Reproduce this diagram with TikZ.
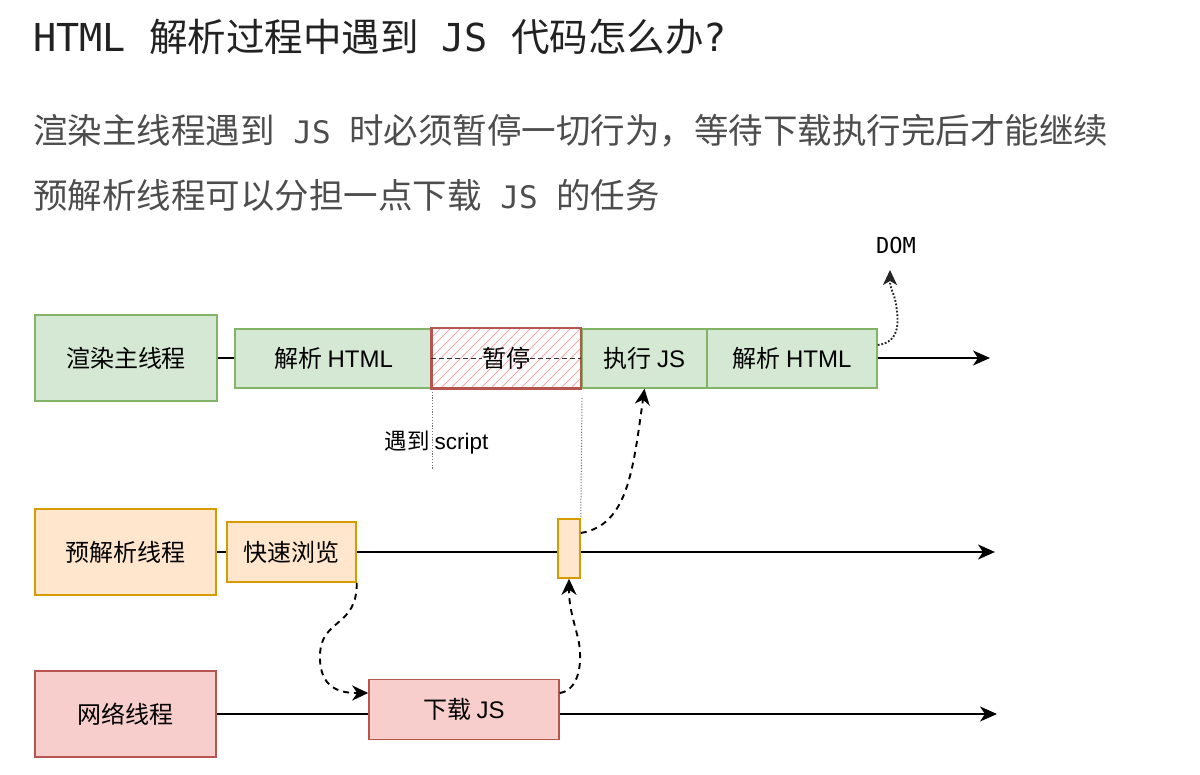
\documentclass[tikz,border=0pt]{standalone}
\usepackage{fontspec}
\setmainfont{Noto Sans CJK SC}
\newfontfamily\monof{DejaVu Sans Mono}
\newfontfamily\latf{Liberation Sans}
\usetikzlibrary{arrows.meta,backgrounds}
\definecolor{gfill}{HTML}{D5E8D4}
\definecolor{gline}{HTML}{82B366}
\definecolor{ofill}{HTML}{FFE6CC}
\definecolor{oline}{HTML}{D79B00}
\definecolor{rfill}{HTML}{F8CECC}
\definecolor{rline}{HTML}{B85450}
\definecolor{hatch}{HTML}{F4A9A7}
\definecolor{titlec}{HTML}{222222}
\definecolor{subc}{HTML}{4D4D4D}
\newcommand{\lt}[1]{{\latf #1}}
\tikzset{
  box/.style={draw, line width=1.6pt, inner sep=0pt, font=\fontsize{24}{24}\selectfont, text=black},
  gbox/.style={box, fill=gfill, draw=gline},
  obox/.style={box, fill=ofill, draw=oline},
  rbox/.style={box, fill=rfill, draw=rline},
  tline/.style={line width=2pt, black},
  tarrow/.style={tline, -{Stealth[length=17pt,width=15pt,inset=5pt]}},
  darrow/.style={line width=1.9pt, black, dash pattern=on 6pt off 5pt, -{Stealth[length=16pt,width=15pt,inset=5pt]}},
  dotarrow/.style={line width=1.9pt, black!85, dash pattern=on 1.8pt off 1.8pt, -{Stealth[length=15pt,width=14pt,inset=4pt]}},
  guide/.style={line width=1pt, black!55, dash pattern=on 1.2pt off 1.6pt},
  plain/.style={inner sep=0pt, anchor=base west}
}
\begin{document}
\begin{tikzpicture}[x=1pt,y=-1pt]
\useasboundingbox (0,0) rectangle (1200,775);
% header text
\node[plain, text=titlec, font=\fontsize{38.5}{38.5}\selectfont] (title) at (33,52)
  {{\monof HTML }解析过程中遇到{\monof\ JS }代码怎么办{\monof ?}};
\node[plain, text=subc, font=\fontsize{34.5}{34.5}\selectfont] (sub1) at (33,144)
  {渲染主线程遇到{\monof\fontsize{31}{31}\selectfont\ JS }时必须暂停一切行为，等待下载执行完后才能继续};
\node[plain, text=subc, font=\fontsize{34.5}{34.5}\selectfont] (sub2) at (33,209)
  {预解析线程可以分担一点下载{\monof\fontsize{31}{31}\selectfont\ JS }的任务};

% row 1
\node[gbox, minimum width=182pt, minimum height=86pt] (main) at (126,358) {渲染主线程};
\node[gbox, minimum width=197pt, minimum height=59pt] (p1) at (333.5,358.5) {解析 \lt{HTML}};
\node[box, fill=white, draw=none, minimum width=148pt, minimum height=59pt] (pause) at (506,358.5) {};
\node[gbox, minimum width=125pt, minimum height=59pt] (exec) at (644.5,358.5) {执行 \lt{JS}};
\node[gbox, minimum width=170pt, minimum height=59pt] (p2) at (792,358.5) {解析 \lt{HTML}};
\coordinate (end1) at (990,358);
\coordinate (dom) at (890,270);
\node[inner sep=0pt, font=\monof\fontsize{22}{22}\selectfont] (domlbl) at (896,245) {DOM};

% pause hatching
\begin{scope}
  \clip (pause.south west) rectangle (pause.north east);
  \foreach \x in {360,370,...,590}
    \draw[hatch, line width=0.9pt] (\x,389) -- (\x+60,329);
\end{scope}
\draw[rline, line width=2.6pt] (pause.south west) rectangle (pause.north east);
\draw[rline, line width=1pt] ([shift={(1,-1)}]pause.south west) -- ([shift={(-1,0)}]pause.south east);
\node[inner sep=0pt, font=\fontsize{24}{24}\selectfont] (pausetxt) at (506,358.5) {暂停};
\draw[black!80, line width=1.2pt, dash pattern=on 5pt off 3pt] (pause.west) -- (pausetxt.west);
\draw[black!80, line width=1.2pt, dash pattern=on 5pt off 3pt] (pausetxt.east) -- (pause.east);

% row 2
\node[obox, minimum width=181pt, minimum height=86pt] (pre) at (125.5,552) {预解析线程};
\node[obox, minimum width=129pt, minimum height=60pt] (scan) at (291.5,552) {快速浏览};
\node[obox, minimum width=22pt, minimum height=59pt] (small) at (569,548.5) {};
\coordinate (end2) at (995,552);

% row 3
\node[rbox, minimum width=181pt, minimum height=86pt] (net) at (125.5,714) {网络线程};
\node[rbox, minimum width=190pt, minimum height=60pt] (dl) at (464,709.5) {下载 \lt{JS}};
\coordinate (end3) at (997,714);

% guide label
\node[inner sep=0pt, font=\fontsize{22.5}{22.5}\selectfont] (enc) at (436.5,443) {遇到 \lt{script}};
\coordinate (g1a) at (432,389);
\coordinate (g1b) at (432,470);
\coordinate (g2a) at (582,398);

% thread lines (background)
\begin{scope}[on background layer]
  \draw[tline] (main.east) -- (main.east -| p1.west);
  \draw[tarrow] (p2.east |- end1) -- (end1);
  \draw[tarrow] (pre.east) -- (end2);
  \draw[tarrow] (net.east) -- (end3);
\end{scope}

% guides
\draw[guide] (g1a) -- (g1b);
\draw[guide] (g2a) -- (small.north east);

% dashed connectors
\draw[darrow] (scan.south east) .. controls (357,628) and (321,618) .. (320,655)
  .. controls (319,690) and (342,693) .. (dl.west |- 0,693);
\draw[darrow] (dl.east |- 0,693) .. controls (580,690) and (583,660) .. (578,638)
  .. controls (572,615) and (569,605) .. (small.south);
\draw[darrow] (small.east |- 0,533) .. controls (628,525) and (633,470) .. (exec.south);
\draw[dotarrow] (p2.east |- 0,345) .. controls (902,342) and (898,318) .. (896,304)
  .. controls (894,292) and (890,290) .. (dom);
\end{tikzpicture}
\end{document}
